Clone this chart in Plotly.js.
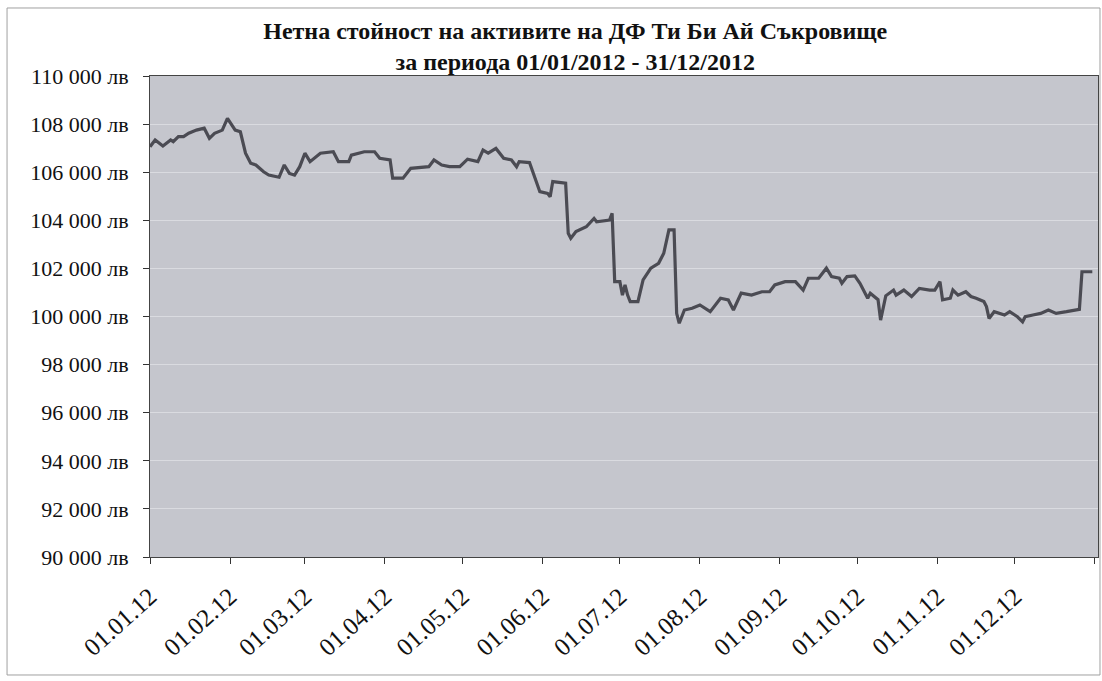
<!DOCTYPE html>
<html>
<head>
<meta charset="utf-8">
<script src="https://cdn.plot.ly/plotly-3.0.1.min.js"></script>
<style>html,body{margin:0;padding:0;background:#fff;}#chart{width:1102px;height:681px;}</style>
</head>
<body>
<div id="chart"></div>
<script>
const titleLine1 = 'Нетна стойност на активите на ДФ Ти Би Ай Съкровище';
const titleLine2 = 'за периода 01/01/2012 - 31/12/2012';

const dates = [
'2012-01-01','2012-01-03','2012-01-06','2012-01-09','2012-01-10','2012-01-12','2012-01-14','2012-01-16','2012-01-19','2012-01-22',
'2012-01-24','2012-01-26','2012-01-29','2012-01-31','2012-02-03','2012-02-05','2012-02-07','2012-02-09','2012-02-11','2012-02-14',
'2012-02-16','2012-02-20','2012-02-22','2012-02-24','2012-02-26','2012-02-28','2012-03-01','2012-03-03','2012-03-07','2012-03-12',
'2012-03-14','2012-03-18','2012-03-19','2012-03-24','2012-03-28','2012-03-30','2012-04-03','2012-04-04','2012-04-08','2012-04-11',
'2012-04-18','2012-04-20','2012-04-23','2012-04-26','2012-04-30','2012-05-03','2012-05-07','2012-05-09','2012-05-11','2012-05-14',
'2012-05-17','2012-05-20','2012-05-22','2012-05-23','2012-05-27','2012-05-29','2012-05-31','2012-06-03','2012-06-04','2012-06-05',
'2012-06-10','2012-06-11','2012-06-12','2012-06-14','2012-06-18','2012-06-21','2012-06-22','2012-06-27','2012-06-28','2012-06-29',
'2012-07-01','2012-07-02','2012-07-03','2012-07-04','2012-07-05','2012-07-08','2012-07-10','2012-07-13','2012-07-16','2012-07-18',
'2012-07-19','2012-07-20','2012-07-22','2012-07-23','2012-07-24','2012-07-26','2012-07-29','2012-08-01','2012-08-05','2012-08-09',
'2012-08-12','2012-08-14','2012-08-17','2012-08-21','2012-08-25','2012-08-28','2012-08-30','2012-09-03','2012-09-07','2012-09-10',
'2012-09-12','2012-09-16','2012-09-19','2012-09-21','2012-09-24','2012-09-25','2012-09-27','2012-09-30','2012-10-02','2012-10-05',
'2012-10-06','2012-10-09','2012-10-10','2012-10-12','2012-10-15','2012-10-16','2012-10-19','2012-10-22','2012-10-25','2012-10-29',
'2012-10-31','2012-11-02','2012-11-03','2012-11-06','2012-11-07','2012-11-09','2012-11-12','2012-11-14','2012-11-16','2012-11-19',
'2012-11-20','2012-11-21','2012-11-23','2012-11-25','2012-11-27','2012-11-29','2012-12-02','2012-12-04','2012-12-05','2012-12-08',
'2012-12-11','2012-12-14','2012-12-17','2012-12-21','2012-12-26','2012-12-27','2012-12-31'
];

const netAssets = [
107060,107340,107090,107340,107270,107480,107480,107620,107750,107830,
107410,107620,107750,108240,107750,107680,106790,106370,106300,106020,
105880,105790,106300,105950,105880,106230,106790,106440,106790,106850,
106440,106440,106710,106850,106850,106580,106510,105750,105750,106160,
106230,106510,106300,106230,106230,106540,106440,106920,106790,106990,
106580,106510,106230,106440,106400,105820,105190,105120,104980,105610,
105540,103460,103250,103530,103730,104080,103940,104010,104290,101450,
101450,100890,101310,100890,100620,100620,101520,102010,102210,102630,
103110,103600,103600,100130,99720,100270,100340,100480,100200,100760,
100690,100270,100970,100890,101030,101030,101310,101450,101450,101100,
101590,101590,102010,101660,101590,101380,101660,101690,101380,100760,
100970,100700,99850,100860,101100,100890,101100,100830,101170,101100,
101100,101450,100690,100760,101100,100890,101030,100830,100760,100620,
100410,99920,100200,100130,100060,100200,99990,99780,99990,100060,
100130,100270,100130,100200,100300,101860,101860
];

const yTicks = [90000,92000,94000,96000,98000,100000,102000,104000,106000,108000,110000];
const currencySuffix = ' лв';
const xRange = ['2012-01-01','2013-01-02 05:00'];
const yRange = [90000,110000];

const serif = '"Liberation Serif", "Times New Roman", serif';

function fmtThousands(v) {
  return String(v).replace(/\B(?=(\d{3})+(?!\d))/g, ' ') + currencySuffix;
}

const trace = {
  x: dates,
  y: netAssets,
  type: 'scatter',
  mode: 'lines',
  line: {color: '#4b4b53', width: 3.2},
  hoverinfo: 'skip'
};

const layout = {
  width: 1102,
  height: 681,
  margin: {l: 150, r: 4, t: 76, b: 124},
  paper_bgcolor: '#ffffff',
  plot_bgcolor: '#c5c6cd',
  showlegend: false,
  title: {
    text: titleLine1 + '<br>' + titleLine2,
    font: {family: serif, size: 24, color: '#111', weight: 'bold'},
    xref: 'container', x: 0.522, xanchor: 'center',
    yref: 'container', y: 0.943, yanchor: 'top'
  },
  xaxis: {
    type: 'date',
    range: xRange,
    tick0: '2012-01-01',
    dtick: 'M1',
    tickformat: '%d.%m.%y',
    tickangle: -42,
    ticks: 'outside',
    ticklen: 6,
    tickcolor: '#333',
    ticklabelstandoff: 8,
    showgrid: false,
    showline: true,
    linecolor: '#444',
    linewidth: 1,
    mirror: true,
    zeroline: false,
    tickfont: {family: serif, size: 25, color: '#111'}
  },
  yaxis: {
    range: yRange,
    tickmode: 'array',
    tickvals: yTicks,
    ticktext: yTicks.map(fmtThousands),
    ticks: 'outside',
    ticklen: 6,
    tickcolor: '#333',
    ticklabelstandoff: 10,
    showgrid: true,
    gridcolor: '#dadbe0',
    gridwidth: 1,
    showline: true,
    linecolor: '#444',
    linewidth: 1,
    mirror: true,
    zeroline: false,
    tickfont: {family: serif, size: 22, color: '#111'}
  },
  shapes: [{
    type: 'rect', xref: 'paper', yref: 'paper',
    x0: -0.1508, x1: 1.0021, y0: -0.2453, y1: 1.1414,
    line: {color: '#a0a0a0', width: 1}, fillcolor: 'rgba(0,0,0,0)', layer: 'below'
  }]
};

Plotly.newPlot('chart', [trace], layout, {displayModeBar: false, staticPlot: true});
</script>
</body>
</html>
